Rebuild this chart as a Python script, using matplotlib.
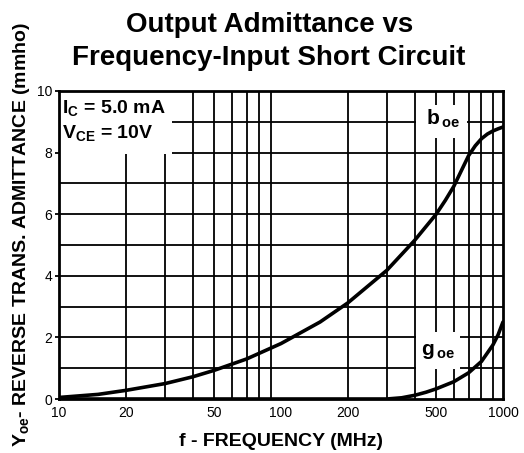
import numpy as np
import matplotlib.pyplot as plt
from matplotlib.patches import Rectangle
from matplotlib.ticker import FixedLocator, NullFormatter

plt.rcParams['font.family'] = ['Liberation Sans', 'DejaVu Sans']
plt.rcParams['mathtext.fontset'] = 'custom'
plt.rcParams['mathtext.rm'] = 'Liberation Sans'
plt.rcParams['mathtext.bf'] = 'Liberation Sans:bold'

# values
freq_b = [10, 15, 20, 30, 40, 50, 70, 100, 150, 200, 300, 400, 500, 550, 600,
          650, 700, 750, 800, 850, 900, 950, 1000]
b_oe = [0.05, 0.15, 0.28, 0.5, 0.72, 0.93, 1.3, 1.8, 2.5, 3.12, 4.18, 5.15, 6.0,
        6.45, 6.9, 7.42, 7.9, 8.22, 8.45, 8.6, 8.7, 8.77, 8.83]
freq_g = [10, 100, 300, 350, 400, 450, 500, 600, 700, 800, 900, 950, 1000]
g_oe = [0.0, 0.0, 0.0, 0.04, 0.12, 0.22, 0.33, 0.56, 0.85, 1.22, 1.75, 2.08, 2.5]

xticks = [10, 20, 50, 100, 200, 500, 1000]
yticks = [0, 2, 4, 6, 8, 10]

fig = plt.figure(figsize=(5.24, 4.53), dpi=100)
ax = fig.add_axes([0.1126, 0.1192, 0.8473, 0.68])

ax.set_xscale('log')
ax.set_xlim(10, 1000)
ax.set_ylim(0, 10)

# grid lines
minor = [v * d for d in (10, 100) for v in range(2, 10)]
for x in minor:
    ax.axvline(x, color='black', lw=1.3, zorder=1)
for y in range(1, 10):
    ax.axhline(y, color='black', lw=1.3, zorder=1)

# white boxes behind the labels (cut the grid)
ax.add_patch(Rectangle((10, 7.95), 22.3, 2.05, facecolor='white', edgecolor='none', zorder=2))
ax.add_patch(Rectangle((405, 8.47), 281, 1.08, facecolor='white', edgecolor='none', zorder=2))
ax.add_patch(Rectangle((405, 0.96), 235, 1.22, facecolor='white', edgecolor='none', zorder=2))

ax.plot(freq_b, b_oe, color='black', lw=2.6, zorder=4, solid_capstyle='round')
ax.plot(freq_g, g_oe, color='black', lw=2.6, zorder=4, solid_capstyle='round')

ax.xaxis.set_major_locator(FixedLocator(xticks))
ax.xaxis.set_minor_locator(FixedLocator([]))
ax.xaxis.set_minor_formatter(NullFormatter())
ax.set_xticklabels([str(v) for v in xticks])
ax.set_yticks(yticks)
ax.tick_params(axis='x', length=0, labelsize=10, pad=5)
ax.tick_params(axis='y', length=3, width=1.3, labelsize=10, pad=2)

for s in ax.spines.values():
    s.set_linewidth(2)
    s.set_zorder(5)

# labels inside the plot
ax.text(10.3, 9.29, '$\\mathbf{I_C}$ = 5.0 mA', fontsize=14, fontweight='bold',
        va='baseline', ha='left', zorder=3)
ax.text(10.3, 8.47, '$\\mathbf{V_{CE}}$ = 10V', fontsize=14, fontweight='bold',
        va='baseline', ha='left', zorder=3)
ax.text(535, 8.9, '$\\mathbf{b_{\\,oe}}$', fontsize=15, va='baseline', ha='center', zorder=3)
ax.text(510, 1.43, '$\\mathbf{g_{\\,oe}}$', fontsize=15, va='baseline', ha='center', zorder=3)

fig.text(281 / 524, 1 - 442 / 453, 'f - FREQUENCY (MHz)', fontsize=14,
         fontweight='bold', ha='center', va='center')
fig.text(22 / 524, 1 - 235 / 453, '$\\mathbf{Y_{oe}}$- REVERSE TRANS. ADMITTANCE (mmho)',
         fontsize=14, fontweight='bold', ha='center', va='center', rotation=90)

fig.text(270 / 524, 1 - 32 / 453, 'Output Admittance vs', fontsize=20,
         fontweight='bold', ha='center', va='baseline')
fig.text(269 / 524, 1 - 65 / 453, 'Frequency-Input Short Circuit', fontsize=20,
         fontweight='bold', ha='center', va='baseline')

fig.savefig('out.png', dpi=100)
